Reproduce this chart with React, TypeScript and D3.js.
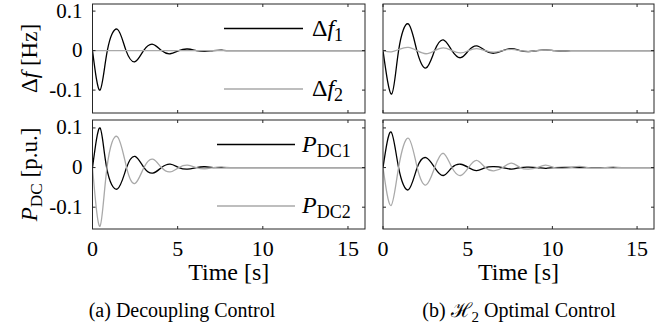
import React, { useEffect, useRef } from 'react';
import * as d3 from 'd3';

// axis ticks
const xTicks = [0, 5, 10, 15];
const yTicks = [0.1, 0, -0.1];
const yTickLabels = ['0.1', '0', '-0.1'];

// (a) decoupling control - frequency deviation [Hz]
const aF1Time = [0, 0.44, 0.87, 1.46, 1.97, 2.5, 3.0, 3.54, 4.05, 4.56, 5.07, 5.58, 6.1, 6.6, 7.1, 7.6, 8.1, 10, 12, 14, 16];
const aF1 = [0, -0.1, 0, 0.054, 0, -0.028, 0, 0.016, 0, -0.008, 0, 0.004, 0, -0.002, 0, 0.001, 0, 0, 0, 0, 0];
const aF2Time = [0, 4, 8, 12, 16];
const aF2 = [0, 0, 0, 0, 0];

// (a) decoupling control - DC power [p.u.]
const aP1Time = [0, 0.44, 0.83, 1.46, 2.0, 2.5, 3.02, 3.54, 4.05, 4.56, 5.07, 5.58, 6.1, 6.6, 7.1, 8, 10, 12, 14, 16];
const aP1 = [0, 0.1, 0, -0.054, 0, 0.028, 0, -0.014, 0, 0.0086, 0, -0.004, 0, 0.002, 0, 0, 0, 0, 0, 0];
const aP2Time = [0, 0.44, 0.85, 1.46, 2.0, 2.5, 3.02, 3.54, 4.05, 4.56, 5.07, 5.58, 6.1, 6.6, 7.1, 7.6, 8.1, 10, 12, 14, 16];
const aP2 = [0, -0.148, 0, 0.078, 0, -0.04, 0, 0.021, 0, -0.011, 0, 0.006, 0, -0.003, 0, 0.0015, 0, 0, 0, 0, 0];

// (b) H2 optimal control - frequency deviation [Hz]
const bF1Time = [0, 0.51, 0.92, 1.49, 2.0, 2.54, 3.05, 3.56, 4.07, 4.58, 5.05, 5.53, 6.04, 6.55, 7.07, 7.59, 8.1, 8.6, 9.1, 9.6, 10.1, 10.6, 11.1, 12, 14, 16];
const bF1 = [0, -0.11, 0, 0.0675, 0, -0.044, 0, 0.027, 0, -0.018, 0, 0.012, 0, -0.0066, 0, 0.005, 0, -0.0025, 0, 0.002, 0, -0.001, 0, 0, 0, 0];
const bF2Time = [0, 0.5, 1.0, 1.5, 2.0, 2.54, 3.05, 3.56, 4.07, 4.58, 5.05, 5.53, 6.04, 6.55, 7.07, 7.59, 8.1, 8.6, 9.1, 9.6, 10.1, 10.6, 11.1, 12, 14, 16];
const bF2 = [0, -0.003, 0.004, 0.008, 0, -0.008, 0, 0.007, 0, -0.006, 0, 0.005, 0, -0.004, 0, 0.003, 0, -0.002, 0, 0.0015, 0, -0.001, 0, 0, 0, 0];

// (b) H2 optimal control - DC power [p.u.]
const bP1Time = [0, 0.47, 0.92, 1.5, 2.02, 2.54, 3.05, 3.56, 4.07, 4.58, 5.05, 5.53, 6.04, 6.55, 7.07, 7.59, 8.1, 8.6, 9.1, 9.6, 10.1, 12, 14, 16];
const bP1 = [0, 0.09, 0, -0.056, 0, 0.025, 0, -0.02, 0, 0.0084, 0, -0.0076, 0, 0.0025, 0, -0.004, 0, 0.001, 0, -0.002, 0, 0, 0, 0];
const bP2Time = [0, 0.47, 0.92, 1.5, 2.02, 2.54, 3.05, 3.56, 4.07, 4.58, 5.05, 5.53, 6.04, 6.55, 7.07, 7.59, 8.1, 8.6, 9.1, 9.6, 10.1, 10.6, 11.1, 11.6, 12.1, 12.6, 13.1, 13.6, 14.1, 16];
const bP2 = [0, -0.096, 0, 0.074, 0, -0.044, 0, 0.036, 0, -0.02, 0, 0.018, 0, -0.0085, 0, 0.011, 0, -0.004, 0, 0.006, 0, -0.002, 0, 0.003, 0, -0.001, 0, 0.0015, 0, 0];

type Part = { t: string; italic?: boolean; sub?: boolean; font?: string };

const App: React.FC = () => {
  const svgRef = useRef<SVGSVGElement>(null);

  useEffect(() => {
    if (!svgRef.current) return;
    const svg = d3.select(svgRef.current);
    svg.selectAll('*').remove();

    const font = "'Liberation Serif', 'Times New Roman', serif";
    const frameColor = '#262626';
    const black = '#000000';
    const gray = '#a9a9a9';

    // write text made of roman / italic / subscript pieces
    const addParts = (text: d3.Selection<SVGTextElement, unknown, null, undefined>, parts: Part[]) => {
      let inSub = false;
      parts.forEach(p => {
        const ts = text.append('tspan').text(p.t);
        if (p.italic) ts.attr('font-style', 'italic');
        if (p.font) ts.attr('font-family', p.font);
        if (p.sub) {
          ts.attr('font-size', '0.75em');
          if (!inSub) ts.attr('dy', 5);
          inSub = true;
        } else if (inSub) {
          ts.attr('dy', -5);
          inSub = false;
        }
      });
    };

    const cols = [
      [92.5, 365],
      [383, 654],
    ];
    const rows = [
      { top: 4, bottom: 113, domain: [-0.158, 0.118] },
      { top: 120, bottom: 229, domain: [-0.155, 0.12] },
    ];

    const panels = [
      { col: 0, row: 0, series: [{ t: aF1Time, v: aF1, c: black }, { t: aF2Time, v: aF2, c: gray }], legend: 'f' },
      { col: 0, row: 1, series: [{ t: aP1Time, v: aP1, c: black }, { t: aP2Time, v: aP2, c: gray }], legend: 'p' },
      { col: 1, row: 0, series: [{ t: bF1Time, v: bF1, c: black }, { t: bF2Time, v: bF2, c: gray }], legend: '' },
      { col: 1, row: 1, series: [{ t: bP1Time, v: bP1, c: black }, { t: bP2Time, v: bP2, c: gray }], legend: '' },
    ];

    panels.forEach((p, pi) => {
      const [left, right] = cols[p.col];
      const r = rows[p.row];
      const x = d3.scaleLinear().domain([0, 16]).range([left, right]);
      const y = d3.scaleLinear().domain(r.domain).range([r.bottom, r.top]);
      const g = svg.append('g');

      // clip
      const clipId = `clip-${pi}`;
      g.append('clipPath')
        .attr('id', clipId)
        .append('rect')
        .attr('x', left)
        .attr('y', r.top)
        .attr('width', right - left)
        .attr('height', r.bottom - r.top);

      // curves
      p.series.forEach(s => {
        const line = d3
          .line<number>()
          .x((_, i) => x(s.t[i]))
          .y(d => y(d))
          .curve(d3.curveNatural);
        g.append('path')
          .datum(s.v)
          .attr('clip-path', `url(#${clipId})`)
          .attr('fill', 'none')
          .attr('stroke', s.c)
          .attr('stroke-width', 1.3)
          .attr('d', line);
      });

      // frame
      g.append('rect')
        .attr('x', left)
        .attr('y', r.top)
        .attr('width', right - left)
        .attr('height', r.bottom - r.top)
        .attr('fill', 'none')
        .attr('stroke', frameColor)
        .attr('stroke-width', 1);

      // ticks (inside, on all four sides)
      const tl = 3;
      xTicks.forEach(t => {
        g.append('line').attr('x1', x(t)).attr('x2', x(t)).attr('y1', r.bottom).attr('y2', r.bottom - tl).attr('stroke', frameColor);
        g.append('line').attr('x1', x(t)).attr('x2', x(t)).attr('y1', r.top).attr('y2', r.top + tl).attr('stroke', frameColor);
      });
      yTicks.forEach(t => {
        g.append('line').attr('x1', left).attr('x2', left + tl).attr('y1', y(t)).attr('y2', y(t)).attr('stroke', frameColor);
        g.append('line').attr('x1', right).attr('x2', right - tl).attr('y1', y(t)).attr('y2', y(t)).attr('stroke', frameColor);
      });

      // y tick labels on left column
      if (p.col === 0) {
        yTicks.forEach((t, i) => {
          g.append('text')
            .attr('x', left - 10)
            .attr('y', y(t) + 6.5)
            .attr('text-anchor', 'end')
            .attr('font-family', font)
            .attr('font-size', 21)
            .attr('fill', black)
            .text(yTickLabels[i]);
        });
        const title = g
          .append('text')
          .attr('transform', `translate(37, ${(r.top + r.bottom) / 2}) rotate(-90)`)
          .attr('text-anchor', 'middle')
          .attr('font-family', font)
          .attr('font-size', 23)
          .attr('fill', black);
        if (p.row === 0) addParts(title, [{ t: 'Δ' }, { t: 'f', italic: true }, { t: ' [Hz]' }]);
        else addParts(title, [{ t: 'P', italic: true }, { t: 'DC', sub: true }, { t: ' [p.u.]' }]);
      }

      // x tick labels and title on bottom row
      if (p.row === 1) {
        xTicks.forEach(t => {
          g.append('text')
            .attr('x', x(t))
            .attr('y', 256)
            .attr('text-anchor', 'middle')
            .attr('font-family', font)
            .attr('font-size', 22)
            .attr('fill', black)
            .text(String(t));
        });
        g.append('text')
          .attr('x', (left + right) / 2)
          .attr('y', 280)
          .attr('text-anchor', 'middle')
          .attr('font-family', font)
          .attr('font-size', 24)
          .attr('fill', black)
          .text('Time [s]');
      }

      // legend
      if (p.legend) {
        const isF = p.legend === 'f';
        const lineStart = right - (isF ? 141 : 148);
        const lineEnd = right - (isF ? 62 : 70);
        const textX = right - (isF ? 53 : 63);
        const ys = isF ? [28.5, 89] : [144.5, 206];
        [black, gray].forEach((c, i) => {
          g.append('line')
            .attr('x1', lineStart)
            .attr('x2', lineEnd)
            .attr('y1', ys[i])
            .attr('y2', ys[i])
            .attr('stroke', c)
            .attr('stroke-width', 1.3);
          const txt = g
            .append('text')
            .attr('x', textX)
            .attr('y', ys[i] + 7)
            .attr('font-family', font)
            .attr('font-size', 24)
            .attr('fill', black);
          if (isF) addParts(txt, [{ t: 'Δ' }, { t: 'f', italic: true }, { t: String(i + 1), sub: true }]);
          else addParts(txt, [{ t: 'P', italic: true }, { t: `DC${i + 1}`, sub: true }]);
        });
      }
    });

    // sub-figure captions
    const capA = svg
      .append('text')
      .attr('x', 182)
      .attr('y', 317)
      .attr('text-anchor', 'middle')
      .attr('font-family', font)
      .attr('font-size', 20)
      .attr('fill', black);
    addParts(capA, [{ t: '(a) Decoupling Control' }]);
    const capB = svg
      .append('text')
      .attr('x', 519)
      .attr('y', 317)
      .attr('text-anchor', 'middle')
      .attr('font-family', font)
      .attr('font-size', 20)
      .attr('fill', black);
    addParts(capB, [{ t: '(b) ' }, { t: 'ℋ', font: "'DejaVu Serif', serif" }, { t: '2', sub: true }, { t: ' Optimal Control' }]);
  }, []);

  return (
    <div style={{ position: 'absolute', left: 0, top: 0 }}>
      <svg ref={svgRef} width={668} height={333} style={{ display: 'block', background: '#fff' }}></svg>
    </div>
  );
};

export default App;
